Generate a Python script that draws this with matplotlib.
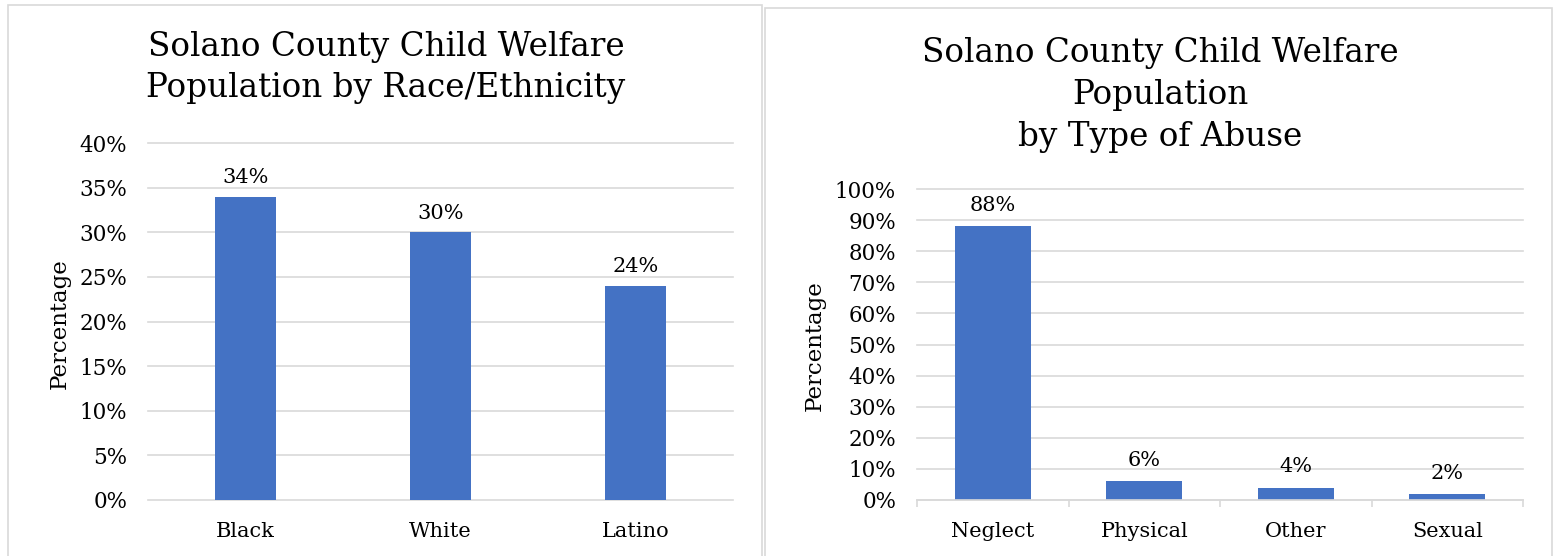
import matplotlib.pyplot as plt
from matplotlib.patches import Rectangle

# data (percent)
race_labels = ["Black", "White", "Latino"]
race_values = [34, 30, 24]

abuse_labels = ["Neglect", "Physical", "Other", "Sexual"]
abuse_values = [88, 6, 4, 2]

BAR = "#4472C4"
GRID = "#D9D9D9"
W, H = 1559, 556

plt.rcParams["font.family"] = ["DejaVu Serif"]
plt.rcParams["text.color"] = "black"

fig = plt.figure(figsize=(W / 100, H / 100), dpi=100)


def px_axes(x0, x1, ytop, ybot):
    return fig.add_axes([x0 / W, 1 - ybot / H, (x1 - x0) / W, (ybot - ytop) / H])


def style(ax, ymax, step):
    ax.set_ylim(0, ymax)
    ax.set_yticks(range(0, ymax + 1, step))
    ax.set_yticklabels([f"{t}%" for t in range(0, ymax + 1, step)])
    ax.yaxis.grid(True, color=GRID, lw=1.2)
    ax.set_axisbelow(True)
    for line in ax.get_ygridlines():
        line.set_clip_on(False)
    for s in ["top", "right", "left", "bottom"]:
        ax.spines[s].set_visible(False)
    ax.tick_params(axis="y", length=0, pad=15, labelsize=15.5)
    ax.tick_params(axis="x", which="major", length=0, pad=16, labelsize=15)


# panel frames
fig.patches.append(Rectangle((8 / W, -0.1), (762 - 8) / W, 1.1 - 5 / H,
                             transform=fig.transFigure, fill=False, ec=GRID, lw=1.2))
fig.patches.append(Rectangle((765 / W, -0.1), (1552 - 765) / W, 1.1 - 8 / H,
                             transform=fig.transFigure, fill=False, ec=GRID, lw=1.2))

# left: race / ethnicity
ax1 = px_axes(148, 733, 143, 500)
bars = ax1.bar(range(len(race_values)), race_values, width=0.31, color=BAR)
ax1.set_xlim(-0.5, len(race_values) - 0.5)
ax1.set_xticks(range(len(race_labels)))
ax1.set_xticklabels(race_labels)
style(ax1, 40, 5)
ax1.bar_label(bars, labels=[f"{v}%" for v in race_values], padding=7, fontsize=15)

fig.text(386 / W, 1 - 67.5 / H, "Solano County Child Welfare\nPopulation by Race/Ethnicity",
         ha="center", va="center", fontsize=23.5, linespacing=1.36)
fig.text(60 / W, 1 - 324 / H, "Percentage", rotation=90, ha="center", va="center",
         fontsize=16.5)

# right: type of abuse
ax2 = px_axes(917, 1523, 189, 500)
bars = ax2.bar(range(len(abuse_values)), abuse_values, width=0.5, color=BAR)
ax2.set_xlim(-0.5, len(abuse_values) - 0.5)
ax2.set_xticks(range(len(abuse_labels)))
ax2.set_xticklabels(abuse_labels)
style(ax2, 100, 10)
ax2.spines["bottom"].set_visible(True)
ax2.spines["bottom"].set_color(GRID)
ax2.spines["bottom"].set_linewidth(1.2)
ax2.set_xticks([i - 0.5 for i in range(len(abuse_values) + 1)], minor=True)
ax2.tick_params(axis="x", which="minor", length=5, width=1.2, color=GRID)
ax2.bar_label(bars, labels=[f"{v}%" for v in abuse_values], padding=8, fontsize=15)

fig.text(1160 / W, 1 - 95 / H, "Solano County Child Welfare\nPopulation\nby Type of Abuse",
         ha="center", va="center", fontsize=23.5, linespacing=1.4)
fig.text(815 / W, 1 - 346 / H, "Percentage", rotation=90, ha="center", va="center",
         fontsize=16.5)

fig.savefig("out.png", dpi=100)
